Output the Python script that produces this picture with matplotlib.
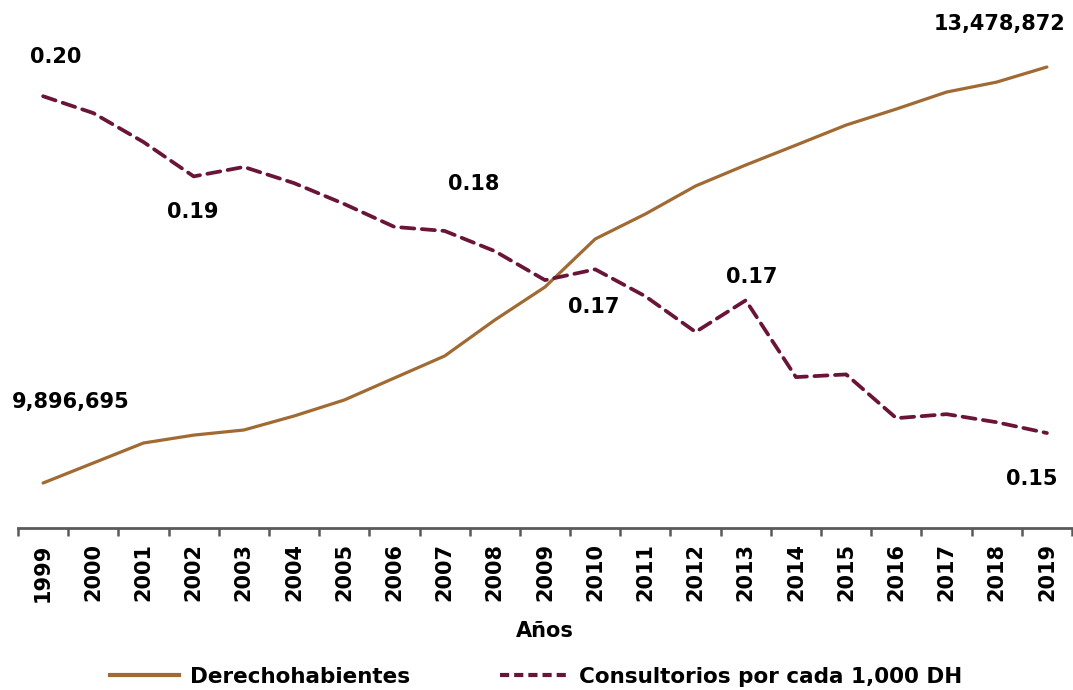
import matplotlib
matplotlib.use("Agg")
import matplotlib.pyplot as plt
from matplotlib.lines import Line2D

years = ["1999", "2000", "2001", "2002", "2003", "2004", "2005", "2006", "2007", "2008",
         "2009", "2010", "2011", "2012", "2013", "2014", "2015", "2016", "2017", "2018", "2019"]
derechohabientes = [9896695, 10068900, 10241100, 10309000, 10353100, 10473600, 10611400,
                    10800900, 10990300, 11300300, 11584500, 11997800, 12213100, 12454200,
                    12635000, 12806000, 12979000, 13117000, 13263000, 13349000, 13478872]
consultorios = [0.1990, 0.1965, 0.1922, 0.1871, 0.1885, 0.1861, 0.1830, 0.1796, 0.1790, 0.1760,
                0.1717, 0.1733, 0.1693, 0.1640, 0.1687, 0.1573, 0.1577, 0.1512, 0.1518, 0.1506,
                0.1490]

brown = "#A06A32"
maroon = "#6A1538"
font = "DejaVu Sans"

fig = plt.figure(figsize=(10.73, 6.90), dpi=100)
ax = fig.add_axes([18/1073, 162/690, 1054/1073, 518/690])
ax2 = ax.twinx()

x = list(range(len(years)))
ax.plot(x, derechohabientes, color=brown, lw=2.3, solid_capstyle="round", zorder=3)
ax2.plot(x, consultorios, color=maroon, lw=2.7, linestyle=(0, (3.5, 2.0)),
         dash_capstyle="round", zorder=3)

ax.set_xlim(-0.5, len(years) - 0.5)
ax.set_ylim(9509200, 13969700)
ax2.set_ylim(0.1349, 0.2118)

for a in (ax, ax2):
    for s in ("top", "right", "left"):
        a.spines[s].set_visible(False)
    a.set_yticks([])
ax2.spines["bottom"].set_visible(False)
ax.spines["bottom"].set_color("#595959")
ax.spines["bottom"].set_linewidth(2.0)

ax.set_xticks([i - 0.5 for i in range(len(years) + 1)], minor=False)
ax.set_xticklabels([])
ax.set_xticks(x, minor=True)
ax.set_xticklabels(years, minor=True, rotation=90, fontsize=15, fontweight="bold",
                   family=font)
ax.tick_params(axis="x", which="major", length=6, width=1.8, color="#595959", direction="out")
ax.tick_params(axis="x", which="minor", length=0, pad=11)
ax.set_xlabel("Años", fontsize=15, fontweight="bold", family=font, labelpad=14)

lbl = dict(fontsize=15, fontweight="bold", family=font, color="black", ha="center", va="center")
# Derechohabientes labels
ax.annotate(f"{derechohabientes[0]:,}", (0, derechohabientes[0]), xytext=(20, 58),
            textcoords="offset points", **lbl)
ax.annotate(f"{derechohabientes[-1]:,}", (20, derechohabientes[-1]), xytext=(-34, 31),
            textcoords="offset points", **lbl)
# Consultorios labels: (index, dx, dy) in points
for i, dx, dy in [(0, 9, 28), (3, -1, -26), (9, -15, 48), (11, -1, -27), (14, 4, 17), (20, -11, -33)]:
    ax2.annotate(f"{consultorios[i]:.2f}", (i, consultorios[i]), xytext=(dx, dy),
                 textcoords="offset points", **lbl)

handles = [Line2D([], [], color=brown, lw=3),
           Line2D([], [], color=maroon, lw=3, linestyle=(0, (2.2, 1.2)))]
fig.legend(handles, ["Derechohabientes", "Consultorios por cada 1,000 DH"],
           loc="center", bbox_to_anchor=(0.5, 13/690), ncol=2, frameon=False,
           prop={"family": font, "weight": "bold", "size": 15.5}, handlelength=3.2,
           columnspacing=4.15, handletextpad=0.5)

fig.savefig("out.png", dpi=100, facecolor="white")
